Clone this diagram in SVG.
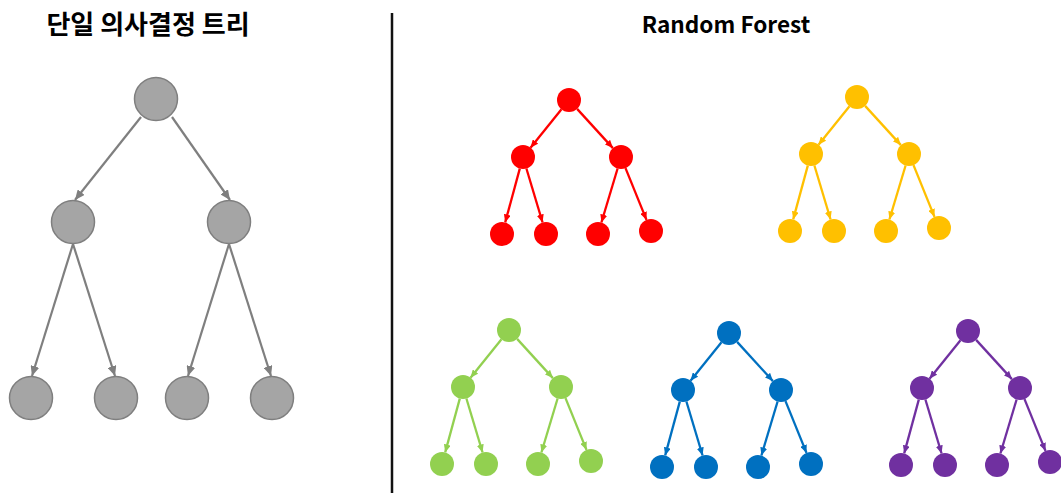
<svg xmlns="http://www.w3.org/2000/svg" width="1061" height="493" viewBox="0 0 1061 493">
<style>
.title{font-family:"Noto Sans CJK KR","Noto Sans",sans-serif;font-weight:bold;fill:#000;text-anchor:middle}
.ge{stroke:#7f7f7f;stroke-width:2.2;fill:none;marker-end:url(#mg)}
.gn{fill:#a5a5a5;stroke:#7f7f7f;stroke-width:1.5}
.e{stroke-width:2.3;fill:none}
.red .e{stroke:#ff0000;marker-end:url(#mr)}
.yel .e{stroke:#ffc000;marker-end:url(#my)}
.grn .e{stroke:#92d050;marker-end:url(#mgr)}
.blu .e{stroke:#0070c0;marker-end:url(#mb)}
.pur .e{stroke:#7030a0;marker-end:url(#mp)}
.nr{fill:#ff0000}.ny{fill:#ffc000}.ng{fill:#92d050}.nb{fill:#0070c0}.np{fill:#7030a0}
</style>
<defs>
<marker id="mg" markerUnits="userSpaceOnUse" markerWidth="10" markerHeight="9" refX="10" refY="4.5" orient="auto"><path d="M0,0 L10,4.5 L0,9 z" fill="#7f7f7f"/></marker>
<marker id="mr" markerUnits="userSpaceOnUse" markerWidth="8" markerHeight="7" refX="8" refY="3.5" orient="auto"><path d="M0,0 L8,3.5 L0,7 z" fill="#ff0000"/></marker>
<marker id="my" markerUnits="userSpaceOnUse" markerWidth="8" markerHeight="7" refX="8" refY="3.5" orient="auto"><path d="M0,0 L8,3.5 L0,7 z" fill="#ffc000"/></marker>
<marker id="mgr" markerUnits="userSpaceOnUse" markerWidth="8" markerHeight="7" refX="8" refY="3.5" orient="auto"><path d="M0,0 L8,3.5 L0,7 z" fill="#92d050"/></marker>
<marker id="mb" markerUnits="userSpaceOnUse" markerWidth="8" markerHeight="7" refX="8" refY="3.5" orient="auto"><path d="M0,0 L8,3.5 L0,7 z" fill="#0070c0"/></marker>
<marker id="mp" markerUnits="userSpaceOnUse" markerWidth="8" markerHeight="7" refX="8" refY="3.5" orient="auto"><path d="M0,0 L8,3.5 L0,7 z" fill="#7030a0"/></marker>
</defs>
<rect width="1061" height="493" fill="#fff"/>
<text class="title" x="148" y="34" font-size="26">단일 의사결정 트리</text>
<text class="title" x="726" y="33" font-size="22.6">Random Forest</text>
<line x1="392" y1="13" x2="392" y2="493" stroke="#111" stroke-width="2.5"/>

<g id="connectors">
  <g id="gray-edges">
    <line class="ge" x1="141" y1="117" x2="75" y2="200"/>
    <line class="ge" x1="172" y1="117" x2="230" y2="200"/>
    <line class="ge" x1="73" y1="244" x2="32" y2="376"/>
    <line class="ge" x1="73" y1="244" x2="115" y2="376"/>
    <line class="ge" x1="229" y1="244" x2="188" y2="376"/>
    <line class="ge" x1="229" y1="244" x2="271" y2="376"/>
  </g>
  <g id="red-edges" class="red" transform="translate(569,100)">
    <line class="e" x1="-7.5" y1="9.3" x2="-38.5" y2="47.7"/>
    <line class="e" x1="8.1" y1="8.9" x2="43.9" y2="48.1"/>
    <line class="e" x1="-49.2" y1="68.6" x2="-63.8" y2="122.4"/>
    <line class="e" x1="-42.6" y1="68.5" x2="-26.4" y2="122.5"/>
    <line class="e" x1="48.6" y1="68.5" x2="32.4" y2="122.5"/>
    <line class="e" x1="56.5" y1="68.1" x2="77.5" y2="119.9"/>
  </g>
  <g id="yellow-edges" class="yel" transform="translate(857,97)">
    <line class="e" x1="-7.5" y1="9.3" x2="-38.5" y2="47.7"/>
    <line class="e" x1="8.1" y1="8.9" x2="43.9" y2="48.1"/>
    <line class="e" x1="-49.2" y1="68.6" x2="-63.8" y2="122.4"/>
    <line class="e" x1="-42.6" y1="68.5" x2="-26.4" y2="122.5"/>
    <line class="e" x1="48.6" y1="68.5" x2="32.4" y2="122.5"/>
    <line class="e" x1="56.5" y1="68.1" x2="77.5" y2="119.9"/>
  </g>
  <g id="green-edges" class="grn" transform="translate(509,330)">
    <line class="e" x1="-7.5" y1="9.3" x2="-38.5" y2="47.7"/>
    <line class="e" x1="8.1" y1="8.9" x2="43.9" y2="48.1"/>
    <line class="e" x1="-49.2" y1="68.6" x2="-63.8" y2="122.4"/>
    <line class="e" x1="-42.6" y1="68.5" x2="-26.4" y2="122.5"/>
    <line class="e" x1="48.6" y1="68.5" x2="32.4" y2="122.5"/>
    <line class="e" x1="56.5" y1="68.1" x2="77.5" y2="119.9"/>
  </g>
  <g id="blue-edges" class="blu" transform="translate(729,333)">
    <line class="e" x1="-7.5" y1="9.3" x2="-38.5" y2="47.7"/>
    <line class="e" x1="8.1" y1="8.9" x2="43.9" y2="48.1"/>
    <line class="e" x1="-49.2" y1="68.6" x2="-63.8" y2="122.4"/>
    <line class="e" x1="-42.6" y1="68.5" x2="-26.4" y2="122.5"/>
    <line class="e" x1="48.6" y1="68.5" x2="32.4" y2="122.5"/>
    <line class="e" x1="56.5" y1="68.1" x2="77.5" y2="119.9"/>
  </g>
  <g id="purple-edges" class="pur" transform="translate(968,331)">
    <line class="e" x1="-7.5" y1="9.3" x2="-38.5" y2="47.7"/>
    <line class="e" x1="8.1" y1="8.9" x2="43.9" y2="48.1"/>
    <line class="e" x1="-49.2" y1="68.6" x2="-63.8" y2="122.4"/>
    <line class="e" x1="-42.6" y1="68.5" x2="-26.4" y2="122.5"/>
    <line class="e" x1="48.6" y1="68.5" x2="32.4" y2="122.5"/>
    <line class="e" x1="56.5" y1="68.1" x2="77.5" y2="119.9"/>
  </g>
</g>

<g id="gray-tree">
  <g id="g-root"><circle class="gn" cx="156" cy="99" r="21.5"/></g>
  <g id="g-m1"><circle class="gn" cx="73" cy="222" r="21.5"/></g>
  <g id="g-m2"><circle class="gn" cx="229" cy="222" r="21.5"/></g>
  <g id="g-l1"><circle class="gn" cx="31" cy="398" r="21.5"/></g>
  <g id="g-l2"><circle class="gn" cx="116" cy="398" r="21.5"/></g>
  <g id="g-l3"><circle class="gn" cx="187" cy="398" r="21.5"/></g>
  <g id="g-l4"><circle class="gn" cx="272" cy="398" r="21.5"/></g>
</g>

<g id="red-tree" transform="translate(569,100)">
  <g id="r-root"><circle class="nr" cx="0" cy="0" r="12"/></g>
  <g id="r-m1"><circle class="nr" cx="-46" cy="57" r="12"/></g>
  <g id="r-m2"><circle class="nr" cx="52" cy="57" r="12"/></g>
  <g id="r-l1"><circle class="nr" cx="-67" cy="134" r="12"/></g>
  <g id="r-l2"><circle class="nr" cx="-23" cy="134" r="12"/></g>
  <g id="r-l3"><circle class="nr" cx="29" cy="134" r="12"/></g>
  <g id="r-l4"><circle class="nr" cx="82" cy="131" r="12"/></g>
</g>
<g id="yellow-tree" transform="translate(857,97)">
  <g id="y-root"><circle class="ny" cx="0" cy="0" r="12"/></g>
  <g id="y-m1"><circle class="ny" cx="-46" cy="57" r="12"/></g>
  <g id="y-m2"><circle class="ny" cx="52" cy="57" r="12"/></g>
  <g id="y-l1"><circle class="ny" cx="-67" cy="134" r="12"/></g>
  <g id="y-l2"><circle class="ny" cx="-23" cy="134" r="12"/></g>
  <g id="y-l3"><circle class="ny" cx="29" cy="134" r="12"/></g>
  <g id="y-l4"><circle class="ny" cx="82" cy="131" r="12"/></g>
</g>
<g id="green-tree" transform="translate(509,330)">
  <g id="gr-root"><circle class="ng" cx="0" cy="0" r="12"/></g>
  <g id="gr-m1"><circle class="ng" cx="-46" cy="57" r="12"/></g>
  <g id="gr-m2"><circle class="ng" cx="52" cy="57" r="12"/></g>
  <g id="gr-l1"><circle class="ng" cx="-67" cy="134" r="12"/></g>
  <g id="gr-l2"><circle class="ng" cx="-23" cy="134" r="12"/></g>
  <g id="gr-l3"><circle class="ng" cx="29" cy="134" r="12"/></g>
  <g id="gr-l4"><circle class="ng" cx="82" cy="131" r="12"/></g>
</g>
<g id="blue-tree" transform="translate(729,333)">
  <g id="b-root"><circle class="nb" cx="0" cy="0" r="12"/></g>
  <g id="b-m1"><circle class="nb" cx="-46" cy="57" r="12"/></g>
  <g id="b-m2"><circle class="nb" cx="52" cy="57" r="12"/></g>
  <g id="b-l1"><circle class="nb" cx="-67" cy="134" r="12"/></g>
  <g id="b-l2"><circle class="nb" cx="-23" cy="134" r="12"/></g>
  <g id="b-l3"><circle class="nb" cx="29" cy="134" r="12"/></g>
  <g id="b-l4"><circle class="nb" cx="82" cy="131" r="12"/></g>
</g>
<g id="purple-tree" transform="translate(968,331)">
  <g id="p-root"><circle class="np" cx="0" cy="0" r="12"/></g>
  <g id="p-m1"><circle class="np" cx="-46" cy="57" r="12"/></g>
  <g id="p-m2"><circle class="np" cx="52" cy="57" r="12"/></g>
  <g id="p-l1"><circle class="np" cx="-67" cy="134" r="12"/></g>
  <g id="p-l2"><circle class="np" cx="-23" cy="134" r="12"/></g>
  <g id="p-l3"><circle class="np" cx="29" cy="134" r="12"/></g>
  <g id="p-l4"><circle class="np" cx="82" cy="131" r="12"/></g>
</g>
</svg>
